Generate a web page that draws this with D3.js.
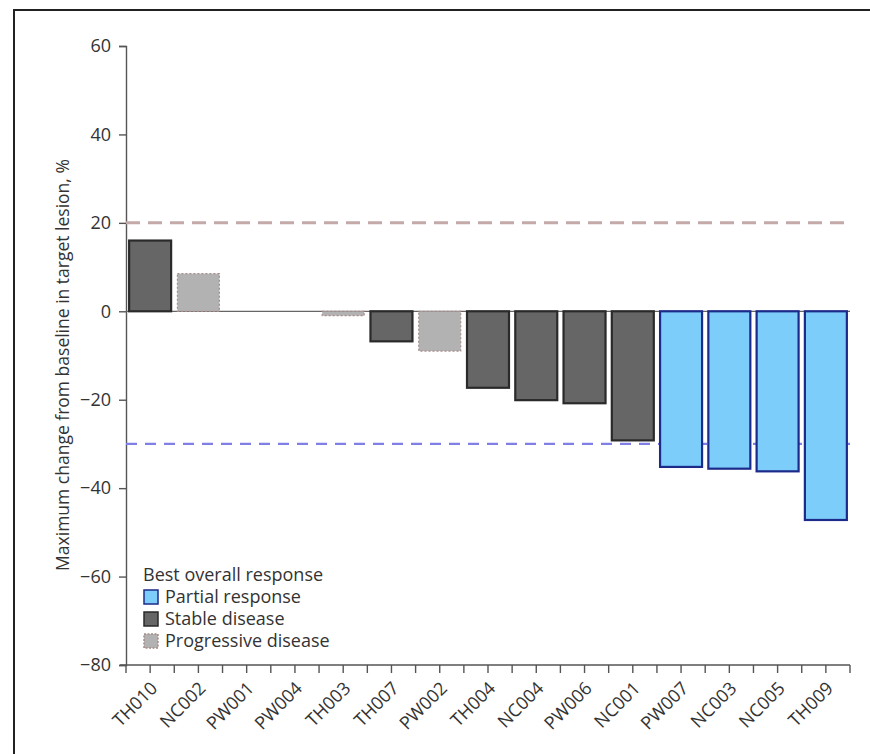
<!DOCTYPE html>
<html>
<head>
<meta charset="utf-8">
<script src="https://cdn.jsdelivr.net/npm/d3@7"></script>
<style>
  html, body { margin: 0; padding: 0; background: #fff; }
  svg { display: block; }
  text { font-family: "Open Sans", "Noto Sans", sans-serif; fill: #333; }
</style>
</head>
<body>
<svg id="chart" width="870" height="754"></svg>
<script>
// Patients, ordered by best change in target lesion size
const patients = ["TH010","NC002","PW001","PW004","TH003","TH007","PW002","TH004","NC004","PW006","NC001","PW007","NC003","NC005","TH009"];
const maxChange = [16, 8.5, 0, 0, -1, -6.8, -9, -17.3, -20.1, -20.8, -29.2, -35.2, -35.6, -36.2, -47.2];
const response = ["SD","PD","SD","SD","PD","SD","PD","SD","SD","SD","SD","PR","PR","PR","PR"];

const responseKeys = ["PR","SD","PD"];
const responseNames = ["Partial response","Stable disease","Progressive disease"];
const yTicks = [60, 40, 20, 0, -20, -40, -60, -80];
const thresholds = [20, -30];

const fillOf = {PR: "#7ccdfa", SD: "#666666", PD: "#b2b2b2"};
const strokeOf = {PR: "#1c2a8a", SD: "#2a2a2a", PD: "#a88c8c"};

const svg = d3.select("#chart");

// frame around the figure
svg.append("rect").attr("x", 14).attr("y", 10).attr("width", 880).attr("height", 780)
  .attr("fill", "none").attr("stroke", "#222").attr("stroke-width", 2);

const x = d3.scaleBand().domain(patients).range([126, 850]).paddingInner(0.13).paddingOuter(0.065);
const y = d3.scaleLinear().domain([-80, 60]).range([665, 46]);

// y axis
const yAxis = svg.append("g").attr("transform", "translate(126,0)")
  .call(d3.axisLeft(y).tickValues(yTicks).tickSize(7).tickPadding(8).tickFormat(d => d < 0 ? "\u2212" + Math.abs(d) : d));
yAxis.select(".domain").attr("stroke", "#555").attr("stroke-width", 1.4);
yAxis.selectAll(".tick line").attr("stroke", "#555").attr("stroke-width", 1.4);
yAxis.selectAll(".tick text").style("font-size", "18px").attr("fill", "#333");

svg.append("text")
  .attr("transform", "translate(69," + 365 + ") rotate(-90)")
  .attr("text-anchor", "middle")
  .style("font-size", "17.5px")
  .text("Maximum change from baseline in target lesion, %");

// threshold reference lines
svg.selectAll("line.thr").data(thresholds).join("line")
  .attr("class", "thr")
  .attr("x1", 126).attr("x2", 850)
  .attr("y1", d => y(d)).attr("y2", d => y(d))
  .attr("stroke", d => d > 0 ? "#c4a9a9" : "#7f7fe6")
  .attr("stroke-width", d => d > 0 ? 3 : 2.2)
  .attr("stroke-dasharray", d => d > 0 ? "14,8" : "11,8");

// zero line
svg.append("line").attr("x1", 126).attr("x2", 850).attr("y1", y(0)).attr("y2", y(0))
  .attr("stroke", "#666").attr("stroke-width", 1.2);

// bars
svg.selectAll("rect.bar").data(patients).join("rect")
  .attr("class", "bar")
  .attr("x", d => x(d))
  .attr("width", x.bandwidth())
  .attr("y", (d, i) => y(Math.max(0, maxChange[i])))
  .attr("height", (d, i) => Math.abs(y(maxChange[i]) - y(0)))
  .attr("fill", (d, i) => fillOf[response[i]])
  .attr("stroke", (d, i) => strokeOf[response[i]])
  .attr("stroke-width", (d, i) => response[i] === "PD" ? 1.2 : 2.2)
  .attr("stroke-dasharray", (d, i) => response[i] === "PD" ? "2,2" : null)
  .attr("display", (d, i) => maxChange[i] === 0 ? "none" : null);

// x axis with ticks at band centres and band edges
const xAxisG = svg.append("g").attr("transform", "translate(0,665)");
xAxisG.append("line").attr("x1", 120).attr("x2", 850).attr("y1", 0).attr("y2", 0)
  .attr("stroke", "#555").attr("stroke-width", 1.4);
const edgeTicks = patients.map(p => x(p) - x.step() * x.paddingInner() / 2).concat([850]);
xAxisG.selectAll("line.edge").data(edgeTicks).join("line").attr("class", "edge")
  .attr("x1", d => d).attr("x2", d => d).attr("y1", 0).attr("y2", 8)
  .attr("stroke", "#555").attr("stroke-width", 1.4);
xAxisG.selectAll("line.mid").data(patients).join("line").attr("class", "mid")
  .attr("x1", d => x(d) + x.bandwidth() / 2).attr("x2", d => x(d) + x.bandwidth() / 2)
  .attr("y1", 0).attr("y2", 8)
  .attr("stroke", "#555").attr("stroke-width", 1.4);
xAxisG.selectAll("text").data(patients).join("text")
  .attr("transform", d => "translate(" + (x(d) + x.bandwidth() / 2 + 4) + ",20) rotate(-45)")
  .attr("text-anchor", "end")
  .attr("dy", "0.35em")
  .style("font-size", "18px")
  .text(d => d);

// legend
const legend = svg.append("g").attr("transform", "translate(143,575)");
legend.append("text").attr("x", 0).attr("y", 6).style("font-size", "18px").text("Best overall response");
const items = legend.selectAll("g.item").data(responseKeys).join("g").attr("class", "item")
  .attr("transform", (d, i) => "translate(0," + (22 + i * 22) + ")");
items.append("rect").attr("x", 1).attr("y", -7).attr("width", 14).attr("height", 14)
  .attr("fill", d => fillOf[d]).attr("stroke", d => strokeOf[d]).attr("stroke-width", 1.5)
  .attr("stroke-dasharray", d => d === "PD" ? "2,1.5" : null);
items.append("text").attr("x", 22).attr("y", 6).style("font-size", "18px")
  .text((d, i) => responseNames[i]);
</script>
</body>
</html>
